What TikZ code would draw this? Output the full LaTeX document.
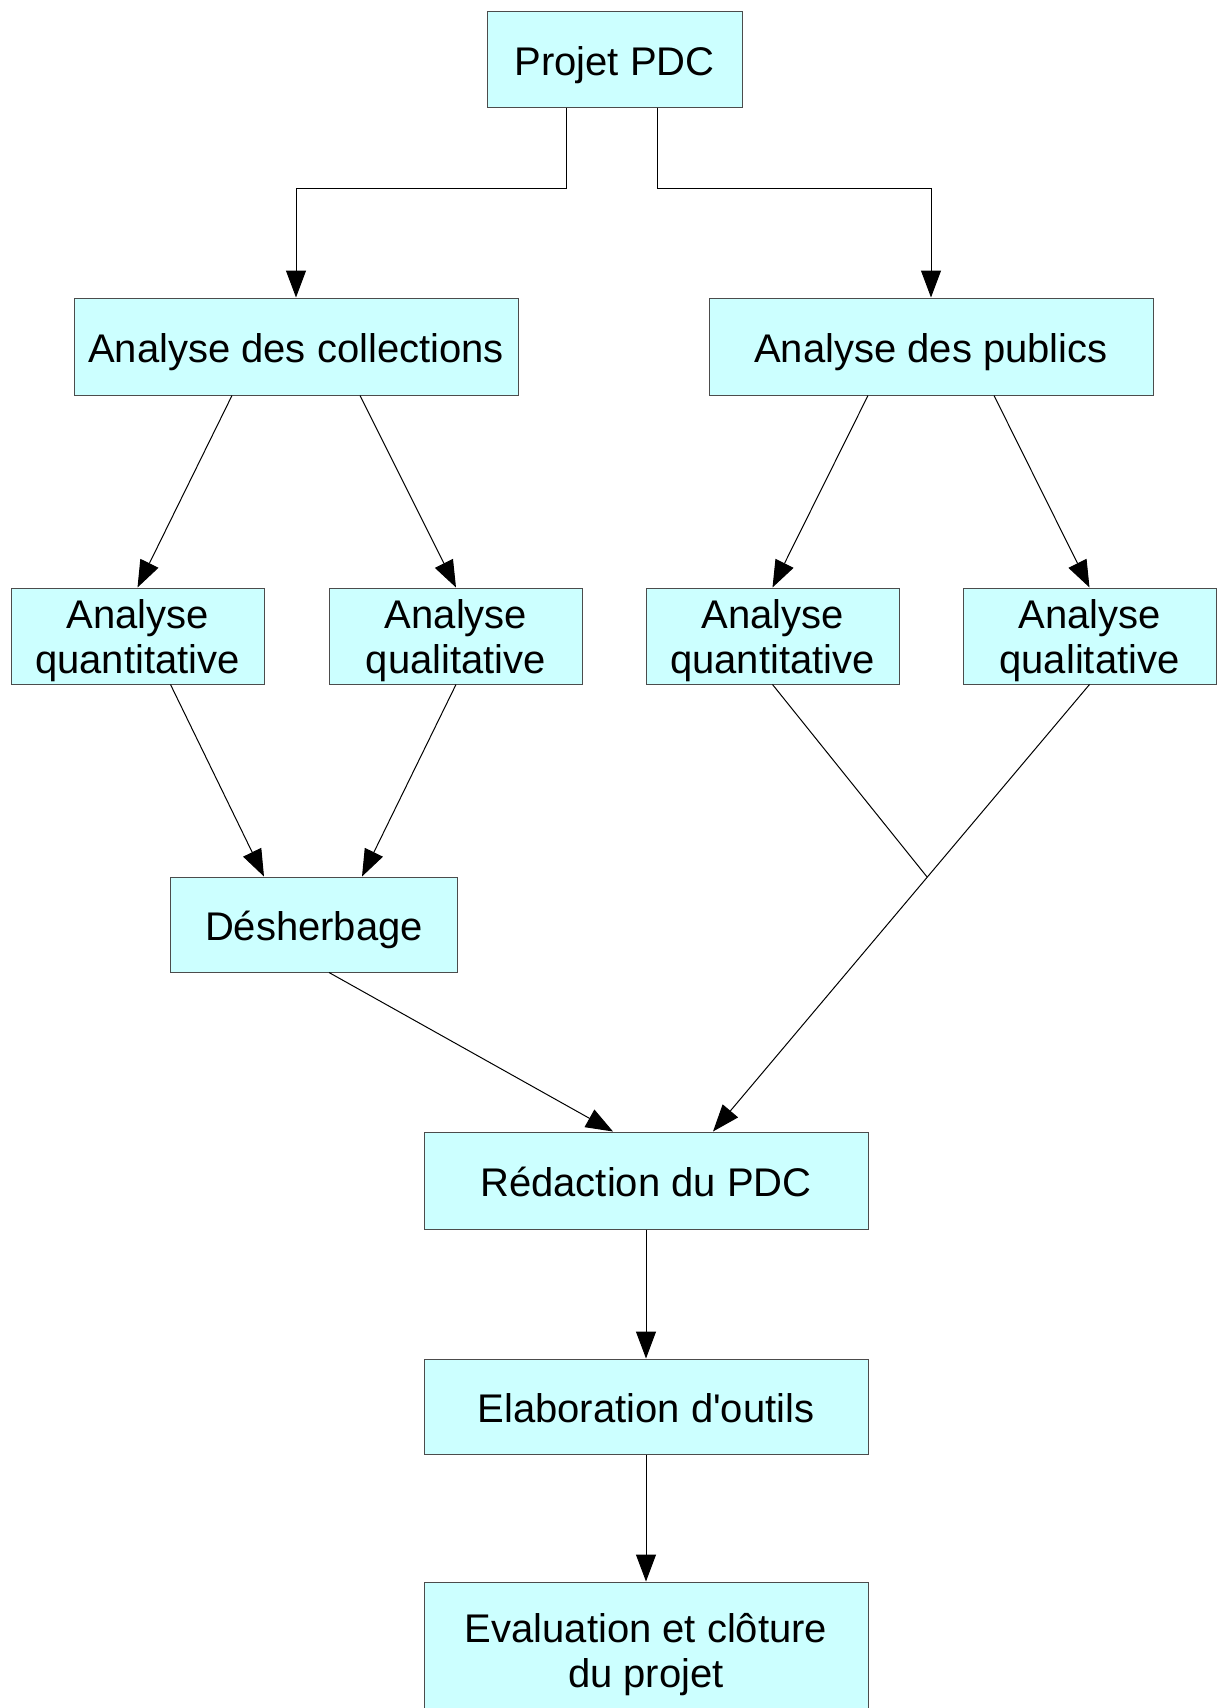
\documentclass[tikz,border=0pt]{standalone}
\usepackage{fontspec}
\setmainfont{Liberation Sans}[Ligatures=TeXOff]
\usepackage{tikz}
\usetikzlibrary{arrows.meta,calc}

\begin{document}
\begin{tikzpicture}[x=1pt,y=-1pt]
\tikzstyle{every node}+=[inner sep=0pt]
\tikzstyle{box}=[draw=black!70, line width=1pt, fill={rgb,255:red,204;green,255;blue,255}, align=center, font=\fontsize{40}{45}\selectfont]
\tikzstyle{one}=[box, text height=41pt, text depth=9pt]
\tikzstyle{wide}=[one, minimum width=444pt, minimum height=97pt]
\tikzstyle{small}=[box, text depth=0pt, minimum width=253pt, minimum height=96pt]
\tikzstyle{link}=[draw=black, line width=1pt, -{Triangle[length=27pt,width=20pt]}]
\useasboundingbox (0,0) rectangle (1225,1708);
\node [one, minimum width=255pt, minimum height=96pt] (pdc) at (614.5,59) {Projet PDC};
\node [wide] (coll) at (296,346.5) {Analyse des collections};
\node [wide] (pub) at (931,346.5) {Analyse des publics};
\node [small] (quantL) at (137.5,636) {Analyse\\quantitative};
\node [small] (qualL) at (456,636) {Analyse\\qualitative};
\node [small] (quantR) at (772.5,636) {Analyse\\quantitative};
\node [small] (qualR) at (1089.5,636) {Analyse\\qualitative};
\node [one, minimum width=287pt, minimum height=95pt] (desh) at (314,924.5) {Désherbage};
\node [wide] (red) at (646,1180.5) {Rédaction du PDC};
\node [wide, minimum height=95pt] (elab) at (646,1406.5) {Elaboration d'outils};
\node [box, minimum width=444pt, minimum height=146pt] (eval) at (646,1655) {Evaluation et clôture\\du projet};
\coordinate (redin) at ([xshift=67pt]red.north);
\coordinate (merge) at ($(qualR.south)!0.431!(redin)$);
\draw [link] ([xshift=-48pt]pdc.south) -- ++(0,81) -| (coll.north);
\draw [link] ([xshift=43pt]pdc.south) -- ++(0,81) -| (pub.north);
\draw [link] ([xshift=-64pt]coll.south) -- (quantL.north);
\draw [link] ([xshift=64pt]coll.south) -- (qualL.north);
\draw [link] ([xshift=-63pt]pub.south) -- (quantR.north);
\draw [link] ([xshift=63pt]pub.south) -- (qualR.north);
\draw [link] ([xshift=33pt]quantL.south) -- ([xshift=-50pt]desh.north);
\draw [link] (qualL.south) -- ([xshift=48pt]desh.north);
\draw [line width=1pt] (quantR.south) -- (merge);
\draw [link] (qualR.south) -- (redin);
\draw [link] ([xshift=15pt]desh.south) -- ([xshift=-33pt]red.north);
\draw [link] (red.south) -- (elab.north);
\draw [link] (elab.south) -- (eval.north);
\end{tikzpicture}
\end{document}
